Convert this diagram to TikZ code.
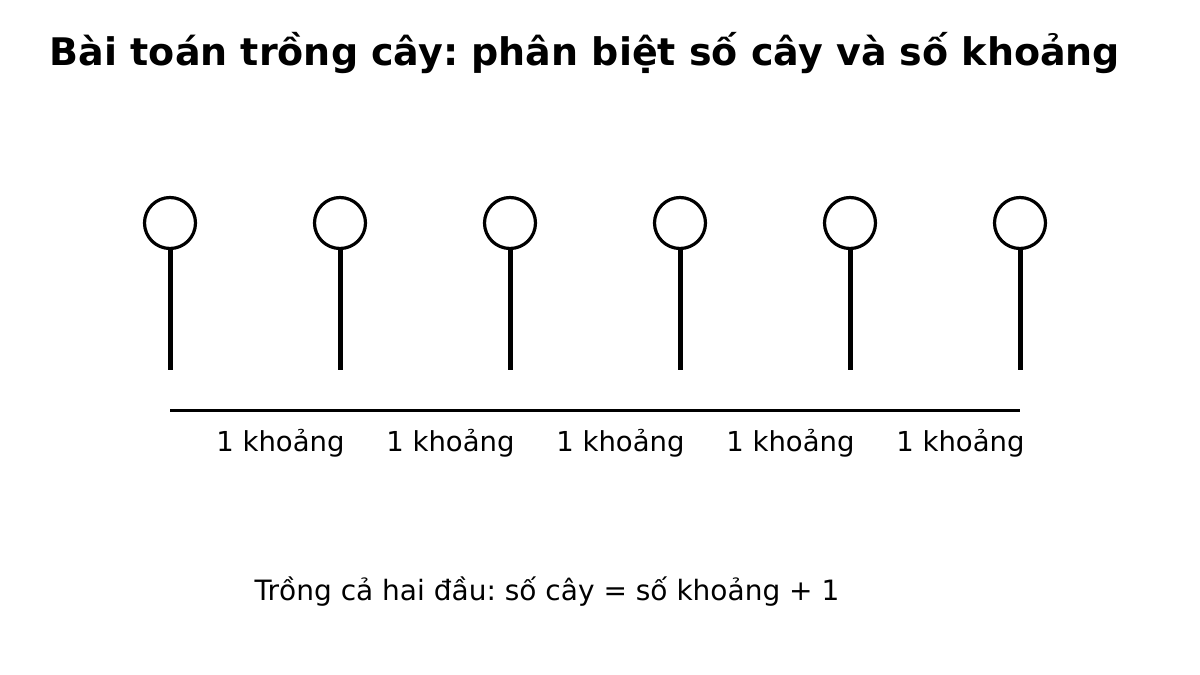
\documentclass[tikz,border=0pt]{standalone}
\usepackage{fontspec}
\setmainfont{DejaVu Sans}
\frenchspacing
\begin{document}
\begin{tikzpicture}[x=1pt,y=-1pt,
  crown/.style={circle,draw=black,line width=3.2pt,minimum size=51pt,inner sep=0pt,fill=white},
  stem/.style={line width=5pt},
  lbl/.style={font=\fontsize{27.5}{32}\selectfont,anchor=base,inner sep=0pt},
  rul/.style={font=\fontsize{28}{32}\selectfont,anchor=base,inner sep=0pt},
  ttl/.style={font=\fontsize{38}{44}\selectfont\bfseries,anchor=base,inner sep=0pt}]
\useasboundingbox (0,0) rectangle (1200,675);
\node[ttl] (title) at (585,65) {Bài toán trồng cây: phân biệt số cây và số khoảng};
\foreach \i in {0,...,5}{
  \pgfmathsetmacro{\xx}{170+170*\i}
  \coordinate (b\i) at (\xx,370);
  \node[crown] (t\i) at (\xx,223) {};
  \draw[stem] (t\i.south) -- (b\i);
}
\coordinate (L) at (170,410);
\coordinate (R) at (1020,410);
\draw[line width=3pt] (L) -- (R);
\foreach \i in {0,...,4}{
  \pgfmathsetmacro{\xx}{280.5+170*\i}
  \node[lbl] (k\i) at (\xx,451) {1 khoảng};
}
\node[rul] (rule) at (547,600) {Trồng cả hai đầu: số cây = số khoảng + 1};
\end{tikzpicture}
\end{document}
